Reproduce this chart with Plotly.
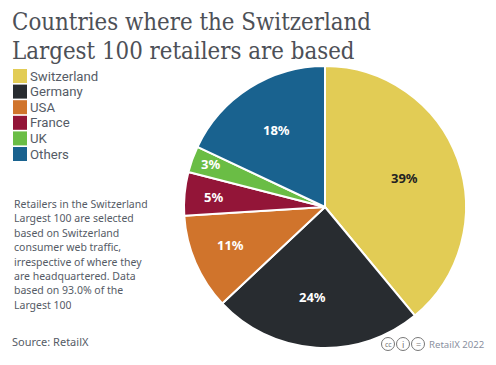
import plotly.graph_objects as go

categories = ["Switzerland", "Germany", "USA", "France", "UK", "Others"]
values = [39, 24, 11, 5, 3, 18]
colors = ["#E2CC55", "#282C30", "#D0742C", "#931538", "#6ABD45", "#19628F"]
title_lines = ["Countries where the Switzerland", "Largest 100 retailers are based"]
note_lines = ["Retailers in the Switzerland", "Largest 100 are selected", "based on Switzerland",
              "consumer web traffic,", "irrespective of where they", "are headquartered. Data",
              "based on 93.0% of the", "Largest 100"]
source = "Source: RetailX"
credit = "RetailX 2022"

W, H = 496, 365
BODY = "Noto Sans"
LEGEND_FONT = "Roboto"
GREY = "#555b66"

fig = go.Figure(go.Pie(
    labels=categories, values=values, sort=False, direction="clockwise", rotation=0,
    marker=dict(colors=colors, line=dict(color="white", width=2)),
    textinfo="none",
    domain=dict(x=[184 / W, 466 / W], y=[1 - 348 / H, 1 - 66 / H]),
    showlegend=False, hoverinfo="label+percent",
))

ann = []
shapes = []
def txt(x, y, s, size, color=GREY, family=BODY, anchor="left", weight="normal", height=None):
    ann.append(dict(x=x / W, y=1 - y / H, xref="paper", yref="paper", text=s, showarrow=False,
                    xanchor=anchor, yanchor="middle", align="left", height=height, borderpad=0,
                    font=dict(family=family, size=size, color=color, weight=weight)))

for i, line in enumerate(title_lines):
    txt(11, 22 + i * 29, line, 23.8, "#4d5057", "DejaVu Serif Condensed", height=28)

for i, (c, col) in enumerate(zip(categories, colors)):
    yc = 76 + i * 15.6
    shapes.append(dict(type="rect", xref="paper", yref="paper", x0=13 / W, x1=27 / W,
                       y0=1 - (yc + 7) / H, y1=1 - (yc - 7) / H, fillcolor=col, line_width=0))
    txt(29, yc, c, 13.2, family=LEGEND_FONT)

label_px = [(404, 178), (312, 297), (230, 245), (213, 197), (210, 164), (276, 130)]
for v, (x, y), col in zip(values, label_px, ["#222222"] + ["white"] * 5):
    txt(x, y, f"{v}%", 13, col, anchor="center", weight="bold")

for i, line in enumerate(note_lines):
    txt(13, 204 + i * 14.4, line, 10.5, height=14.3)
txt(11, 341, source, 11)

for cx in (388, 403, 418):
    shapes.append(dict(type="circle", xref="paper", yref="paper", x0=(cx - 6.5) / W, x1=(cx + 6.5) / W,
                       y0=1 - (344 + 6.5) / H, y1=1 - (344 - 6.5) / H,
                       line=dict(color="#777777", width=1), fillcolor="white"))
for cx, g, sz in ((388, "cc", 7), (403, "i", 9), (418, "=", 9)):
    txt(cx, 344, g, sz, "#777777", anchor="center")
txt(428, 344, credit, 9.6, "#8a90a0")

fig.update_layout(width=W, height=H, margin=dict(l=0, r=0, t=0, b=0), paper_bgcolor="white",
                  annotations=ann, shapes=shapes)
fig.write_html("out.html", config=dict(displayModeBar=False),
               post_script="document.body.style.margin='0';")
